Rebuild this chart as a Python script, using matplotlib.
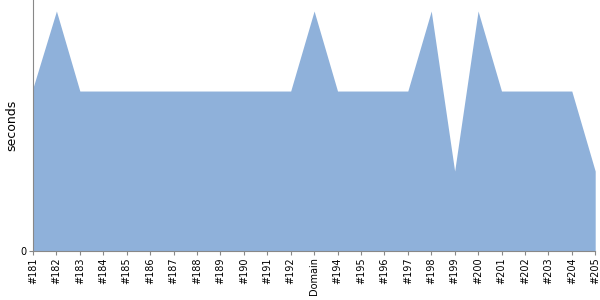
import matplotlib
matplotlib.use("Agg")
import matplotlib.pyplot as plt

labels = ["#181", "#182", "#183", "#184", "#185", "#186", "#187", "#188", "#189",
          "#190", "#191", "#192", "Domain", "#194", "#195", "#196", "#197", "#198",
          "#199", "#200", "#201", "#202", "#203", "#204", "#205"]
values = [2.04, 3, 2, 2, 2, 2, 2, 2, 2, 2, 2, 2, 3, 2, 2, 2, 2, 3, 1, 3, 2, 2, 2, 2, 1]

fig = plt.figure(figsize=(6, 3), dpi=100)
ax = fig.add_axes([0.055, 0.163, 0.937, 0.837])
x = list(range(len(labels)))
ax.fill_between(x, values, 0, color="#8fb1da", linewidth=0)
ax.set_xlim(0, len(labels) - 1)
ax.set_ylim(0, 3.1375)
ax.set_xticks(x)
ax.set_xticklabels(labels, rotation=90, fontsize=7)
ax.set_yticks([0])
ax.set_yticklabels(["0"], fontsize=7)
ax.set_ylabel("seconds", fontsize=9, labelpad=2)
for s in ["top", "right"]:
    ax.spines[s].set_visible(False)
for s in ["left", "bottom"]:
    ax.spines[s].set_color("#888888")
ax.tick_params(colors="#888888", labelcolor="black", length=3, pad=1.5)
fig.savefig("out.png", dpi=100)
